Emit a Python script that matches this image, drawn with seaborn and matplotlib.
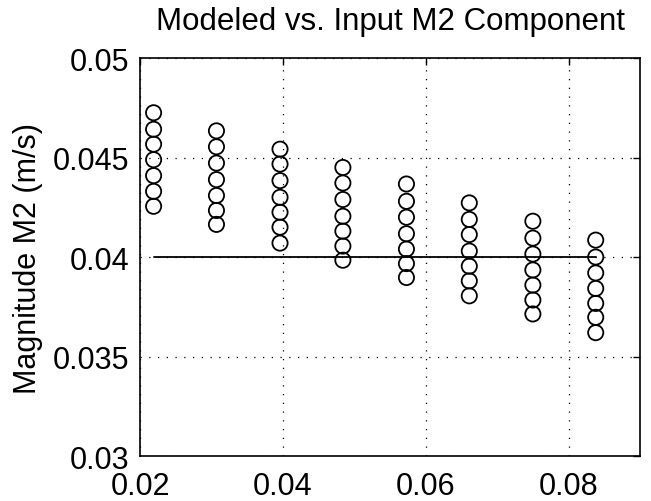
import numpy as np
import pandas as pd
import matplotlib
matplotlib.use("Agg")
import matplotlib.pyplot as plt
import seaborn as sns

# Data
damping = [0.0219, 0.0307, 0.0396, 0.0484, 0.0573, 0.0661, 0.0750, 0.0838]
col1 = [0.04725, 0.04642, 0.04567, 0.04489, 0.04409, 0.04330, 0.04255]
col2 = [0.04634, 0.04554, 0.04472, 0.04389, 0.04309, 0.04234, 0.04164]
col3 = [0.04542, 0.04467, 0.04384, 0.04300, 0.04225, 0.04150, 0.04070]
col4 = [0.04450, 0.04372, 0.04289, 0.04205, 0.04130, 0.04055, 0.03984]
col5 = [0.04367, 0.04280, 0.04200, 0.04117, 0.04040, 0.03967, 0.03897]
col6 = [0.04272, 0.04189, 0.04113, 0.04030, 0.03954, 0.03880, 0.03805]
col7 = [0.04180, 0.04095, 0.04015, 0.03935, 0.03859, 0.03784, 0.03714]
col8 = [0.04085, 0.04000, 0.03920, 0.03842, 0.03767, 0.03697, 0.03620]
input_m2 = 0.04
xticks = [0.02, 0.04, 0.06, 0.08]
yticks = [0.03, 0.035, 0.04, 0.045, 0.05]
title = "Modeled vs. Input M2 Component"
ylabel = "Magnitude M2 (m/s)"

cols = [col1, col2, col3, col4, col5, col6, col7, col8]
rows = []
for xv, vals in zip(damping, cols):
    for v in vals:
        rows.append({"x": xv, "y": v})
df = pd.DataFrame(rows)

sns.set_style("white")
plt.rcParams['font.family'] = ['Liberation Sans', 'DejaVu Sans']

fig = plt.figure(figsize=(6.51, 5.02), dpi=100)
ax = fig.add_axes([0.2151, 0.0896, 0.768, 0.7928])

ax.plot([damping[0], damping[-1]], [input_m2, input_m2], color='black', lw=1.3, zorder=2)
sns.scatterplot(data=df, x="x", y="y", ax=ax, marker='o', s=120,
                facecolors='none', edgecolor='black', linewidth=1.3, zorder=3)

ax.set_xlim(0.02, 0.09)
ax.set_ylim(0.03, 0.05)
ax.set_xticks(xticks)
ax.set_xticklabels([f"{t:g}" for t in xticks])
ax.set_yticks(yticks)
ax.set_yticklabels([f"{t:g}" for t in yticks])
ax.grid(True, linestyle=(0, (1, 6)), color='black', linewidth=0.9)
ax.tick_params(direction='in', length=5, width=1, top=True, right=True,
               labelsize=22, colors='black')
ax.tick_params(axis='x', pad=11)
ax.tick_params(axis='y', pad=8)
for sp in ax.spines.values():
    sp.set_color('black')
    sp.set_linewidth(1.2)
ax.set_xlabel("")
ax.set_ylabel(ylabel, fontsize=22, labelpad=7, color='black')
ax.set_title(title, fontsize=22.5, pad=21, color='black')

fig.savefig("out.png", dpi=100)
